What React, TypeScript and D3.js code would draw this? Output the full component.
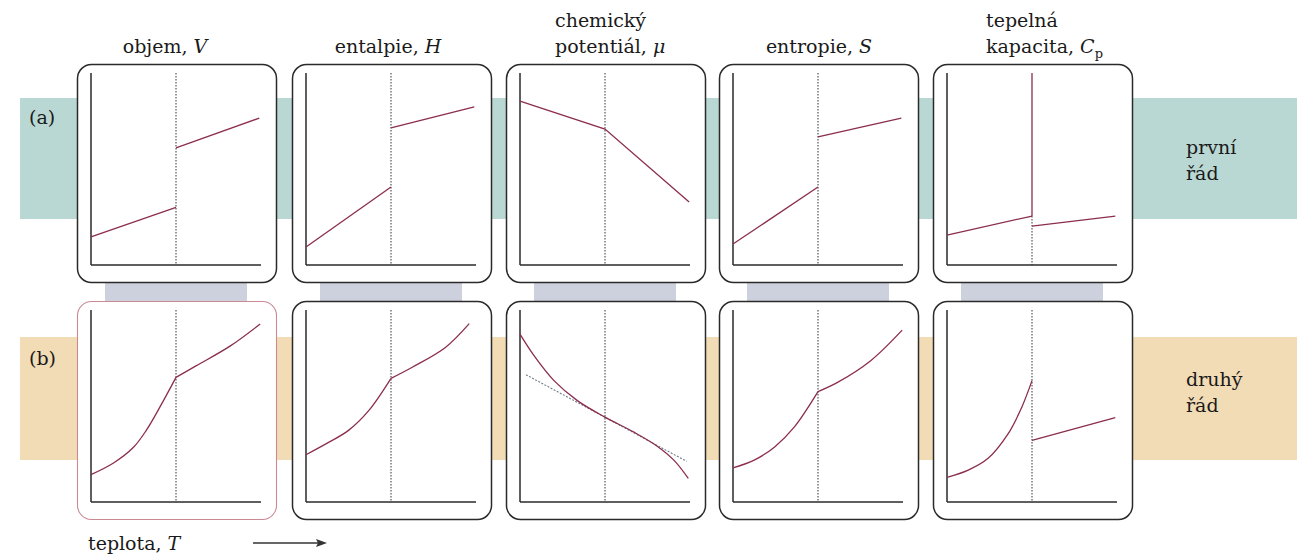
import React from 'react';
import * as d3 from 'd3';

// column titles (multi-line titles are left aligned as a block)
const columnTitles = [
  { lines: [["objem, ", "V", ""]], align: 'middle' },
  { lines: [["entalpie, ", "H", ""]], align: 'middle' },
  { lines: [["chemický", "", ""], ["potentiál, ", "μ", ""]], align: 'start' },
  { lines: [["entropie, ", "S", ""]], align: 'middle' },
  { lines: [["tepelná", "", ""], ["kapacita, ", "C", "p"]], align: 'start' },
];
const rowLabels = ["(a)", "(b)"];
const orderLabels = [["první", "řád"], ["druhý", "řád"]];

// values: [T, value], transition at T = 1
type Pt = [number, number];
const aVolume: Pt[][] = [[[0, 1.46], [1, 3.0]], [[1, 6.1], [1.98, 7.65]]];
const aEnthalpy: Pt[][] = [[[0, 0.94], [1, 4.06]], [[1, 7.14], [1.98, 8.23]]];
const aPotential: Pt[][] = [[[0, 8.54], [1, 7.08], [1.99, 3.28]]];
const aEntropy: Pt[][] = [[[0, 1.09], [1, 4.06]], [[1, 6.67], [1.98, 7.65]]];
const aHeatCap: Pt[][] = [[[0, 1.56], [1, 2.55]], [[1, 2.55], [1, 10]], [[1, 2.03], [1.98, 2.55]]];

const bVolume: Pt[][] = [
  [[0, 1.43], [0.26, 2.02], [0.5, 2.85], [0.65, 3.73], [0.81, 4.94], [1, 6.49]],
  [[1, 6.49], [1.24, 7.1], [1.64, 8.13], [1.99, 9.27]],
];
const bEnthalpy: Pt[][] = [
  [[0, 2.46], [0.26, 3.09], [0.5, 3.73], [0.74, 4.77], [1, 6.44]],
  [[1, 6.44], [1.25, 7.02], [1.64, 8.05], [1.92, 9.29]],
];
const bPotential: Pt[][] = [
  [[0, 8.74], [0.165, 7.62], [0.4, 6.32], [0.675, 5.28], [1, 4.42], [1.34, 3.64], [1.61, 2.92], [1.81, 2.18], [1.98, 1.23]],
];
const bPotentialTangent: Pt[] = [[0.07, 6.63], [1.96, 2.12]];
const bEntropy: Pt[][] = [
  [[0, 1.78], [0.25, 2.18], [0.49, 2.87], [0.72, 3.9], [1, 5.75]],
  [[1, 5.75], [1.23, 6.23], [1.62, 7.36], [1.99, 8.95]],
];
const bHeatCap: Pt[][] = [
  [[0, 1.28], [0.25, 1.66], [0.48, 2.26], [0.72, 3.56], [0.88, 4.94], [1, 6.32]],
  [[1, 3.21], [1.98, 4.39]],
];

const rows = [
  [aVolume, aEnthalpy, aPotential, aEntropy, aHeatCap],
  [bVolume, bEnthalpy, bPotential, bEntropy, bHeatCap],
];

// layout
const W = 1303, H = 554;
const panelLeft = [77, 292, 506, 719, 933];
const rowTop = [64, 301];
const boxW = 200, boxH = 219;
const titleX = [165, 388, 555, 819, 986];
const LINE = '#8b2d4f';
const AXIS = '#2a2a2a';
const FONT = 'DejaVu Serif';
const FS = 19;
const txt = { fontFamily: FONT, fontSize: FS, fill: '#1a1a1a' };

const x = d3.scaleLinear().domain([0, 2]).range([14, 184]);
const y = d3.scaleLinear().domain([0, 10]).range([201, 9]);

const straight = d3.line<Pt>().x(d => x(d[0])).y(d => y(d[1]));
const smooth = d3.line<Pt>().x(d => x(d[0])).y(d => y(d[1])).curve(d3.curveCatmullRom.alpha(0.5));

function Panel({ left, top, segs, row, col }: { left: number; top: number; segs: Pt[][]; row: number; col: number }) {
  const gen = row === 1 ? smooth : straight;
  const border = row === 1 && col === 0 ? '#c98a93' : AXIS;
  const divTop = row === 0 && col === 4 ? y(2.55) : y(10);
  return (
    <g transform={`translate(${left},${top})`}>
      <rect x={0.5} y={0.5} width={boxW - 1} height={boxH - 1} rx={14} fill="#fff"
        stroke={border} strokeWidth={row === 1 && col === 0 ? 1.1 : 1.5} />
      <line x1={x(1)} x2={x(1)} y1={divTop} y2={y(0)} stroke="#333" strokeWidth={1} strokeDasharray="1.5,1.5" />
      <line x1={x(0)} x2={x(0)} y1={y(10)} y2={y(0)} stroke={AXIS} strokeWidth={1.5} />
      <line x1={x(0)} x2={x(2)} y1={y(0)} y2={y(0)} stroke={AXIS} strokeWidth={1.5} />
      {row === 1 && col === 2 && (
        <path d={straight(bPotentialTangent) || ''} fill="none" stroke="#6d7b8c" strokeWidth={1.1} strokeDasharray="2,1.5" />
      )}
      {segs.map((s, i) => (
        <path key={i} d={(s.length > 2 ? gen : straight)(s) || ''} fill="none" stroke={LINE} strokeWidth={1.3} />
      ))}
    </g>
  );
}

export default function App() {
  return (
    <svg width={W} height={H} style={{ position: 'absolute', left: 0, top: 0, background: '#fff' }}>
      {/* coloured bands */}
      <rect x={20} y={98} width={1277} height={121} fill="#b9d7d3" />
      <rect x={20} y={337} width={1277} height={123} fill="#f2dcb5" />
      {/* connectors between rows */}
      {panelLeft.map((l, i) => (
        <rect key={i} x={l + 28} y={rowTop[0] + boxH - 1} width={142} height={rowTop[1] - rowTop[0] - boxH + 2} fill="#cdd1dd" />
      ))}
      {rows.map((r, ri) => r.map((segs, ci) => (
        <Panel key={`${ri}-${ci}`} left={panelLeft[ci]} top={rowTop[ri]} segs={segs} row={ri} col={ci} />
      )))}
      {/* titles */}
      {columnTitles.map((t, i) => t.lines.map((ln, li) => (
        <text key={`${i}-${li}`} x={titleX[i]} y={53 - (t.lines.length - 1 - li) * 26}
          textAnchor={t.align} {...txt}>
          {ln[0]}
          {ln[1] && <tspan fontStyle="italic">{ln[1]}</tspan>}
          {ln[2] && <tspan fontSize={13} dy={5}>{ln[2]}</tspan>}
        </text>
      )))}
      {/* row labels */}
      {rowLabels.map((l, i) => (
        <text key={l} x={29} y={[124, 365][i]} {...txt}>{l}</text>
      ))}
      {orderLabels.map((ls, i) => ls.map((l, j) => (
        <text key={`${i}-${j}`} x={1186} y={[154, 386][i] + j * 26} {...txt}>{l}</text>
      )))}
      {/* temperature axis label */}
      <text x={88} y={550} {...txt}>teplota, <tspan fontStyle="italic">T</tspan></text>
      <line x1={253} x2={322} y1={543} y2={543} stroke="#333" strokeWidth={1.3} />
      <path d="M327,543 L316,539 L318,543 L316,547 Z" fill="#333" />
    </svg>
  );
}
